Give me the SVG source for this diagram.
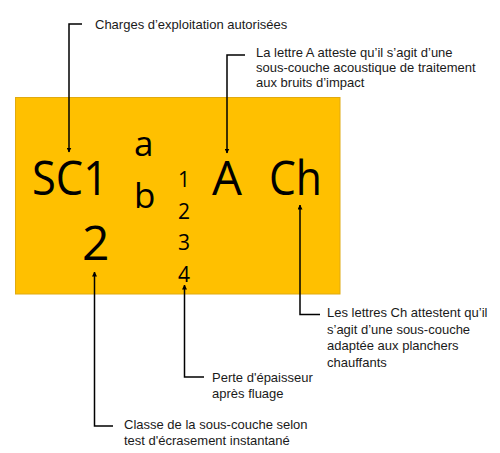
<svg xmlns="http://www.w3.org/2000/svg" width="500" height="453" viewBox="0 0 500 453">
  <defs>
    <style>
      .big { font-family: "Open Sans", "Noto Sans", sans-serif; fill: #000; }
      .lbl { font-family: "Liberation Sans", Arial, sans-serif; font-size: 13px; fill: #1a1a1a; }
      .conn { fill: none; stroke: #000; stroke-width: 1.5; }
    </style>
    <marker id="arrow" viewBox="0 0 10 10" refX="9" refY="5" markerWidth="5" markerHeight="5" orient="auto" markerUnits="userSpaceOnUse">
      <path d="M0,0 L10,5 L0,10 Z" fill="#000"/>
    </marker>
  </defs>
  <rect width="500" height="453" fill="#fff"/>

  <g id="box">
    <rect x="15.5" y="97.5" width="324.5" height="196.5" fill="#FFC000" stroke="#E0AA10" stroke-width="1"/>
    <text class="big" x="32" y="195" font-size="47" textLength="76" lengthAdjust="spacingAndGlyphs">SC1</text>
    <text class="big" x="82" y="260" font-size="48">2</text>
    <text class="big" x="134" y="156" font-size="35">a</text>
    <text class="big" x="134" y="208" font-size="35">b</text>
    <text class="big" x="178" y="187" font-size="21">1</text>
    <text class="big" x="178" y="219" font-size="21">2</text>
    <text class="big" x="178" y="250" font-size="21">3</text>
    <text class="big" x="178" y="282" font-size="21">4</text>
    <text class="big" x="212" y="195" font-size="47" textLength="30" lengthAdjust="spacingAndGlyphs">A</text>
    <text class="big" x="269" y="195" font-size="47" textLength="53" lengthAdjust="spacingAndGlyphs">Ch</text>
  </g>

  <g id="connectors">
    <path class="conn" d="M82,24 H69 V152" marker-end="url(#arrow)"/>
    <path class="conn" d="M245,55 H227 V153" marker-end="url(#arrow)"/>
    <path class="conn" d="M320,314.5 H300 V205" marker-end="url(#arrow)"/>
    <path class="conn" d="M204,377 H184.5 V285" marker-end="url(#arrow)"/>
    <path class="conn" d="M113,426 H94.5 V272" marker-end="url(#arrow)"/>
  </g>

  <g id="label-charges">
    <text class="lbl" x="95" y="29">Charges d’exploitation autorisées</text>
  </g>
  <g id="label-a">
    <text class="lbl" x="256" y="57.3">La lettre A atteste qu’il s’agit d’une</text>
    <text class="lbl" x="256" y="72">sous-couche acoustique de traitement</text>
    <text class="lbl" x="256" y="86.7">aux bruits d’impact</text>
  </g>
  <g id="label-ch">
    <text class="lbl" x="327" y="317">Les lettres Ch attestent qu’il</text>
    <text class="lbl" x="327" y="333.5">s’agit d’une sous-couche</text>
    <text class="lbl" x="327" y="350">adaptée aux planchers</text>
    <text class="lbl" x="327" y="366.5">chauffants</text>
  </g>
  <g id="label-perte">
    <text class="lbl" x="212" y="382">Perte d'épaisseur</text>
    <text class="lbl" x="212" y="398">après fluage</text>
  </g>
  <g id="label-classe">
    <text class="lbl" x="124" y="429">Classe de la sous-couche selon</text>
    <text class="lbl" x="124" y="445">test d'écrasement instantané</text>
  </g>
</svg>
